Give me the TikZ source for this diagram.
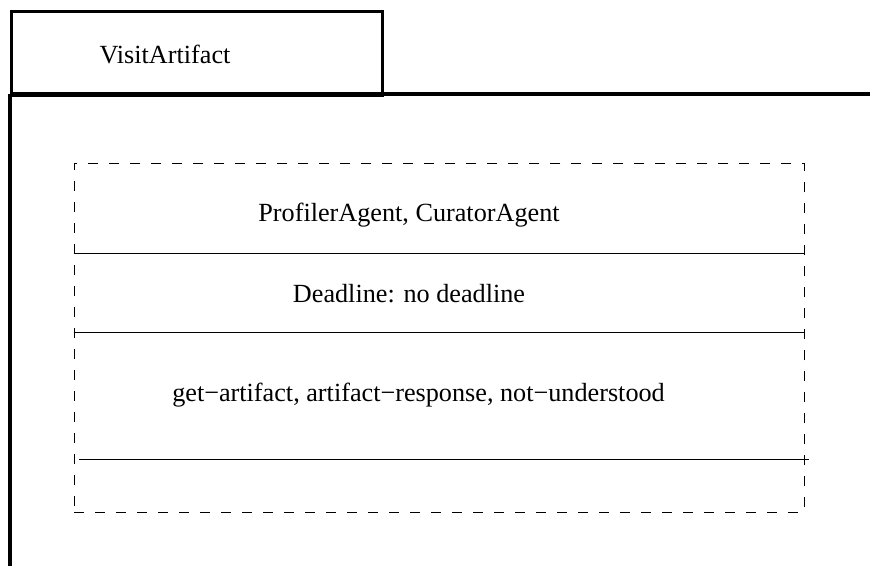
\documentclass[tikz,border=0pt]{standalone}
\usepackage{fontspec}
\setmainfont{Liberation Serif}
\begin{document}
\begin{tikzpicture}[x=1pt,y=-1pt,
  thickline/.style={line width=3.2pt},
  thinline/.style={line width=1.8pt},
  dashline/.style={line width=1.8pt, dash pattern=on 10pt off 11pt},
  lbl/.style={font=\fontsize{26.2}{31}\selectfont, inner sep=0pt}]
\useasboundingbox (0,0) rectangle (870,566);
% frame
\node[draw, thickline, minimum width=371pt, minimum height=84pt, anchor=north west, inner sep=0pt] (tab) at (10,10) {};
\node[lbl] (title) at (165,54) {VisitArtifact};
\coordinate (hl) at (10,94);
\coordinate (hr) at (870,94);
\coordinate (vb) at (10,566);
\draw[thickline] (hl) -- (hr);
\draw[thickline] (hl) -- (vb);
% dashed box
\node[draw, dashline, minimum width=730pt, minimum height=349pt, anchor=north west, inner sep=0pt] (box) at (73.5,162.5) {};
\coordinate (l1a) at (73.5,253.5); \coordinate (l1b) at (803.5,253.5);
\coordinate (l2a) at (73.5,332.5); \coordinate (l2b) at (803.5,332.5);
\coordinate (l3a) at (79,459.5); \coordinate (l3b) at (809,459.5);
\draw[thinline] (l1a) -- (l1b);
\draw[thinline] (l2a) -- (l2b);
\draw[thinline] (l3a) -- (l3b);
\node[lbl] (agents) at (409,215) {ProfilerAgent, CuratorAgent};
\node[lbl] (deadline) at (409,294) {Deadline: no deadline};
\node[lbl] (msgs) at (418.5,395) {get−artifact, artifact−response, not−understood};
\end{tikzpicture}
\end{document}
